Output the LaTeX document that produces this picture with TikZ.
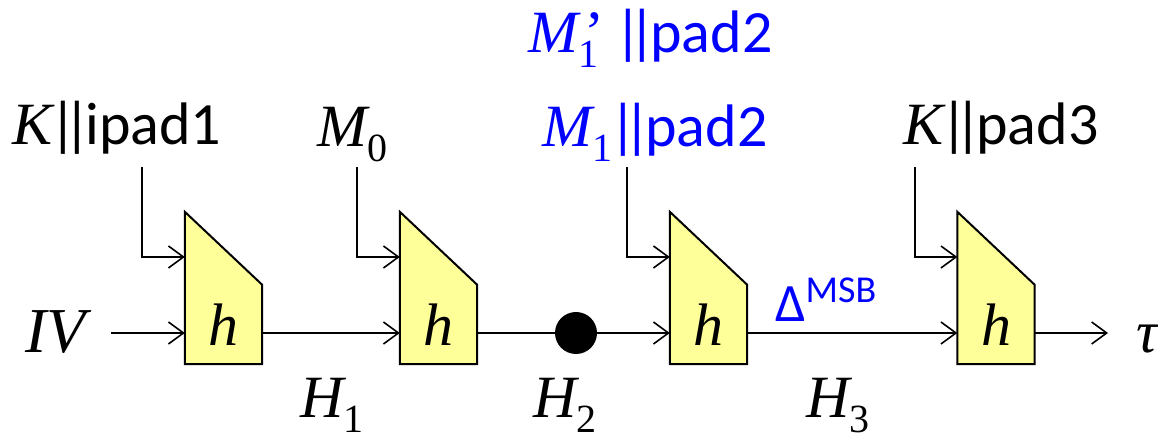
\documentclass[tikz,border=0pt]{standalone}
\usepackage{fontspec}
\setmainfont{Liberation Serif}
\newfontfamily\cbri{Carlito}
\usetikzlibrary{arrows.meta,backgrounds}
\definecolor{lblue}{RGB}{0,0,255}
\definecolor{hyellow}{RGB}{255,255,153}
\newcommand{\mi}[1]{{\rmfamily\itshape #1}}
\newcommand{\sbs}[1]{\raisebox{-15pt}{\fontsize{40}{40}\selectfont\rmfamily\upshape #1}}
\newcommand{\bars}{\kern-3pt|\kern-13pt|\kern-6pt}
\begin{document}
\begin{tikzpicture}[x=1pt,y=1pt,
  hbox/.style={minimum width=77pt, minimum height=79pt, inner sep=0pt, font=\fontsize{60}{60}\selectfont\rmfamily\itshape},
  ln/.style={line width=1.6pt},
  arr/.style={ln, -{Straight Barb[length=15pt,width=22pt,line width=1.6pt]}},
  shp/.style={draw, line width=2pt, fill=hyellow, line join=miter},
  lbl/.style={inner sep=0pt, anchor=base west, font=\fontsize{60}{72}\selectfont\cbri},
  dotn/.style={circle, fill=black, minimum size=42pt, inner sep=0pt}]
\useasboundingbox (0,0) rectangle (1158,435);
% boxes
\node[hbox] (h1) at (223.5,110.5) {h};
\node[hbox] (h2) at (438.5,110.5) {h};
\node[hbox] (h3) at (708.5,110.5) {h};
\node[hbox] (h4) at (996,110.5) {h};
\begin{scope}[on background layer]
\foreach \b in {h1,h2,h3,h4}
  \draw[shp] (\b.south west) -- ([yshift=73pt]\b.north west) -- (\b.north east) -- (\b.south east) -- cycle;
\end{scope}
% chain points
\foreach \b in {h1,h2,h3,h4}{
  \coordinate (\b i) at ([yshift=-8.5pt]\b.west);
  \coordinate (\b o) at ([yshift=-8.5pt]\b.east);
  \coordinate (\b s) at ([yshift=67.5pt]\b.west);
}
% labels
\node[lbl] (iv) at (25,82) {\fontsize{64}{72}\selectfont\mi{IV}};
\node[lbl] (k1) at (12,290) {\mi{K}\bars ipad1};
\node[lbl] (m0) at (317,288) {\mi{M}\sbs{0}};
\node[lbl, text=lblue] (m1) at (542,288) {\mi{M}\sbs{1}\kern-3pt|\kern-13pt|\kern-6pt pad2};
\node[lbl, text=lblue] (m1p) at (528,382) {\mi{M}\rlap{\sbs{1}}\kern6pt{\rmfamily\upshape ’}\kern10pt|\kern-13pt|\kern-6pt pad2};
\node[lbl] (k3) at (903,290) {\mi{K}\bars pad3};
\node[lbl, text=lblue] (dl) at (775,113) {\fontsize{54}{60}\selectfont Δ\raisebox{19pt}{\fontsize{38}{40}\selectfont MSB}};
\node[lbl] (H1) at (300,17) {\mi{H}\sbs{1}};
\node[lbl] (H2) at (533,17) {\mi{H}\sbs{2}};
\node[lbl] (H3) at (806,17) {\mi{H}\sbs{3}};
\node[lbl] (tau) at (1136,82) {\mi{τ}};
\node[dotn] (dot) at (576,102) {};
% connector ends
\coordinate (ivs) at (111,102);
\coordinate (tauend) at (1108,102);
\coordinate (k1d) at (142,268);
\coordinate (m0d) at (357,268);
\coordinate (m1d) at (627,268);
\coordinate (k3d) at (915,268);
% connectors
\draw[arr] (ivs) -- (h1i);
\draw[arr] (h1o) -- (h2i);
\draw[ln] (h2o) -- (dot);
\draw[arr] (dot) -- (h3i);
\draw[arr] (h3o) -- (h4i);
\draw[arr] (h4o) -- (tauend);
\draw[arr] (k1d) |- (h1s);
\draw[arr] (m0d) |- (h2s);
\draw[arr] (m1d) |- (h3s);
\draw[arr] (k3d) |- (h4s);
\end{tikzpicture}
\end{document}
